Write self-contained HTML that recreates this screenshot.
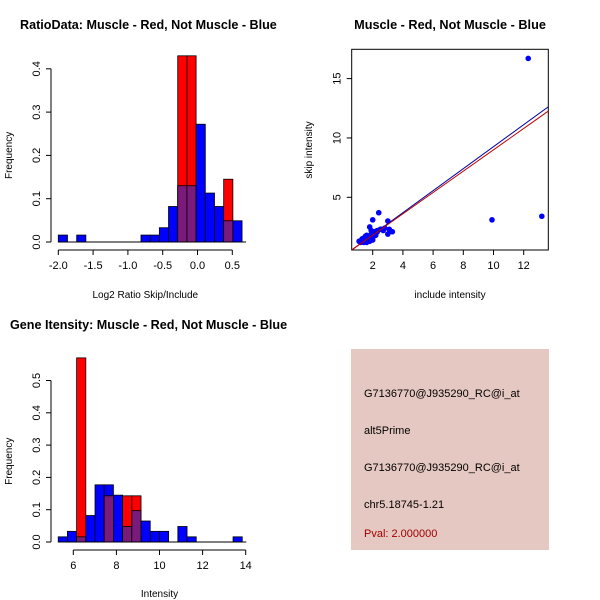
<!DOCTYPE html>
<html><head><meta charset="utf-8"><style>
body{margin:0;background:#fff}
svg{display:block;font-family:"Liberation Sans",sans-serif}
</style></head><body>
<svg id="c" width="600" height="600" viewBox="0 0 600 600">
<rect width="600" height="600" fill="#fff"/>
<text x="20" y="29" font-size="12.6" font-weight="bold">RatioData: Muscle - Red, Not Muscle - Blue</text>
<text x="450" y="29" font-size="12.7" font-weight="bold" text-anchor="middle">Muscle - Red, Not Muscle - Blue</text>
<text x="10" y="329" font-size="12.6" font-weight="bold">Gene Itensity: Muscle - Red, Not Muscle - Blue</text>
<g id="g1"></g>
<g id="g2"></g>
<g id="g3"></g>
<g>
<rect x="351" y="349" width="198" height="201" fill="#e6c8c2"/>
<g font-size="11">
<text x="364" y="397">G7136770@J935290_RC@i_at</text>
<text x="364" y="434">alt5Prime</text>
<text x="364" y="471">G7136770@J935290_RC@i_at</text>
<text x="364" y="508">chr5.18745-1.21</text>
<text x="364" y="537" fill="#a00000">Pval: 2.000000</text>
</g></g>
</svg>
<script>
// Ratio histogram data (bin index -> frequency)
const ratioBlue=[0.016,0,0.016,0,0,0,0,0,0,0.016,0.016,0.033,0.082,0.13,0.13,0.272,0.113,0.082,0.049,0.049];
const ratioRed=[0,0,0,0,0,0,0,0,0,0,0,0,0,0.43,0.43,0,0,0,0.145,0];
const ratioXTicks=[-2.0,-1.5,-1.0,-0.5,0.0,0.5];
const ratioYTicks=[0.0,0.1,0.2,0.3,0.4];
// Intensity histogram data
const intBlue=[0.016,0.033,0.016,0.082,0.177,0.177,0.145,0.048,0.097,0.065,0.033,0.033,0,0.048,0.016,0,0,0,0,0.016];
const intRed=[0,0,0.57,0,0,0.143,0,0.143,0.143,0,0,0,0,0,0,0,0,0,0,0];
const intXTicks=[6,8,10,12,14];
const intYTicks=[0.0,0.1,0.2,0.3,0.4,0.5];
// Scatter data
const incX=[12.3,9.9,13.2,2.4,2.0,3.0,2.3,1.8,2.6,3.3,3.0,2.0,1.5,1.3,1.6,1.9,2.2,1.4,1.7,2.1,1.2,1.5,1.8,2.0,2.5,2.8,1.6,1.9,2.2,1.3,1.1,1.4,1.7,2.0,2.7,3.1,1.9,2.3,1.5,1.8];
const skipY=[16.7,3.1,3.4,3.7,3.1,3.0,2.2,2.5,2.3,2.1,1.9,2.0,1.6,1.4,1.8,1.7,1.9,1.3,1.5,2.1,1.2,1.5,1.4,1.6,2.3,2.4,1.2,2.2,1.8,1.5,1.3,1.2,1.6,1.4,2.2,2.3,1.9,2.1,1.7,1.3];
const scXTicks=[2,4,6,8,10,12];
const scYTicks=[5,10,15];
const fitBlue=[-0.006,0.927];
const fitRed=[0.01,0.899];

const NS="http://www.w3.org/2000/svg";
function el(p,t,a){const e=document.createElementNS(NS,t);for(const k in a)e.setAttribute(k,a[k]);p.appendChild(e);return e;}

function hist(g,blue,red,x0,w,sx,sy,xt,yt,yAxisX,xAxisY,yLabel,xLabel,xLabelY,fmt,yFmt){
  for(let k=0;k<blue.length;k++){
    const a=sx(x0+k*w),b=sx(x0+(k+1)*w);
    const bv=blue[k],rv=red[k];
    if(bv>0){const r=el(g,'rect',{x:a,y:sy(bv),width:b-a,height:sy(0)-sy(bv),fill:'#0000ff',stroke:'#000','stroke-width':0.8});
      }
    if(rv>0){const r=el(g,'rect',{x:a,y:sy(rv),width:b-a,height:sy(0)-sy(rv),fill:'#ff0000',stroke:'#000','stroke-width':0.8});
      }
    const m=Math.min(bv,rv);
    if(m>0){const r=el(g,'rect',{x:a,y:sy(m),width:b-a,height:sy(0)-sy(m),fill:'#7a1a7a',stroke:'#000','stroke-width':0.8});
      }
  }
  el(g,'line',{x1:sx(x0),x2:sx(x0+blue.length*w)+4,y1:sy(0),y2:sy(0),stroke:'#000'});
  el(g,'line',{x1:yAxisX,x2:yAxisX,y1:sy(0),y2:sy(yt[yt.length-1]),stroke:'#000'});
  yt.forEach(v=>{el(g,'line',{x1:yAxisX-5,x2:yAxisX,y1:sy(v),y2:sy(v),stroke:'#000'});
    const t=el(g,'text',{x:0,y:0,'font-size':11,'text-anchor':'middle',transform:`translate(${yAxisX-11} ${sy(v)}) rotate(-90)`});t.textContent=yFmt(v);
    });
  el(g,'line',{x1:sx(xt[0]),x2:sx(xt[xt.length-1]),y1:xAxisY,y2:xAxisY,stroke:'#000'});
  xt.forEach(v=>{el(g,'line',{x1:sx(v),x2:sx(v),y1:xAxisY,y2:xAxisY+5,stroke:'#000'});
    const t=el(g,'text',{x:sx(v),y:xAxisY+19,'font-size':11,'text-anchor':'middle'});t.textContent=fmt(v);
    });
  const yl=el(g,'text',{x:0,y:0,'font-size':10,'text-anchor':'middle',transform:`translate(12 ${(sy(0)+sy(yt[yt.length-1]))/2}) rotate(-90)`});
  yl.textContent=yLabel;
  
  const xl=el(g,'text',{x:(sx(xt[0])+sx(xt[xt.length-1]))/2,y:xLabelY,'font-size':10,'text-anchor':'middle'});xl.textContent=xLabel;
  
}
hist(document.getElementById('g1'),ratioBlue,ratioRed,-2.0,0.132,
  v=>58.3+(v+2)*69.6, v=>242-v*433, ratioXTicks,ratioYTicks,51,250,'Frequency','Log2 Ratio Skip/Include',298,
  v=>v.toFixed(1), v=>v.toFixed(1));
hist(document.getElementById('g2'),intBlue,intRed,5.30,0.427,
  v=>73.3+(v-6)*21.55, v=>542-v*323, intXTicks,intYTicks,51,550,'Frequency','Intensity',597,
  v=>String(v), v=>v.toFixed(1));

(function(){
  const g=document.getElementById('g3');
  const L=351.7,R=548.3,T=49.3,B=250;
  const sx=v=>372.7+(v-2)*15.1, sy=v=>197.3-(v-5)*11.87;
  el(g,'rect',{x:L,y:T,width:R-L,height:B-T,fill:'none',stroke:'#000'});
  incX.forEach((x,i)=>{const c=el(g,'circle',{cx:sx(x),cy:sy(skipY[i]),r:2.8,fill:'#0000ff'});
    });
  const xa=(L-372.7)/15.1+2, xb=(R-372.7)/15.1+2;
  const cp=el(g,'clipPath',{id:'cp'});el(cp,'rect',{x:L,y:T,width:R-L,height:B-T});
  [[fitBlue,'#0000a0','blue-fit-line'],[fitRed,'#c00000','red-fit-line']].forEach(([f,c,n])=>{
    const l=el(g,'line',{x1:sx(xa),y1:sy(f[0]+f[1]*xa),x2:sx(xb),y2:sy(f[0]+f[1]*xb),stroke:c,'stroke-width':1,'clip-path':'url(#cp)'});
    });
  scXTicks.forEach(v=>{el(g,'line',{x1:sx(v),x2:sx(v),y1:B,y2:B+5,stroke:'#000'});
    const t=el(g,'text',{x:sx(v),y:B+19,'font-size':11,'text-anchor':'middle'});t.textContent=v;
    });
  scYTicks.forEach(v=>{el(g,'line',{x1:L-5,x2:L,y1:sy(v),y2:sy(v),stroke:'#000'});
    const t=el(g,'text',{x:0,y:0,'font-size':11,'text-anchor':'middle',transform:`translate(${L-11} ${sy(v)}) rotate(-90)`});t.textContent=v;
    });
  const xl=el(g,'text',{x:450,y:298,'font-size':10,'text-anchor':'middle'});xl.textContent='include intensity';
  
  const yl=el(g,'text',{x:0,y:0,'font-size':10,'text-anchor':'middle',transform:`translate(312 150) rotate(-90)`});yl.textContent='skip intensity';
  
})();
</script>
</body></html>
